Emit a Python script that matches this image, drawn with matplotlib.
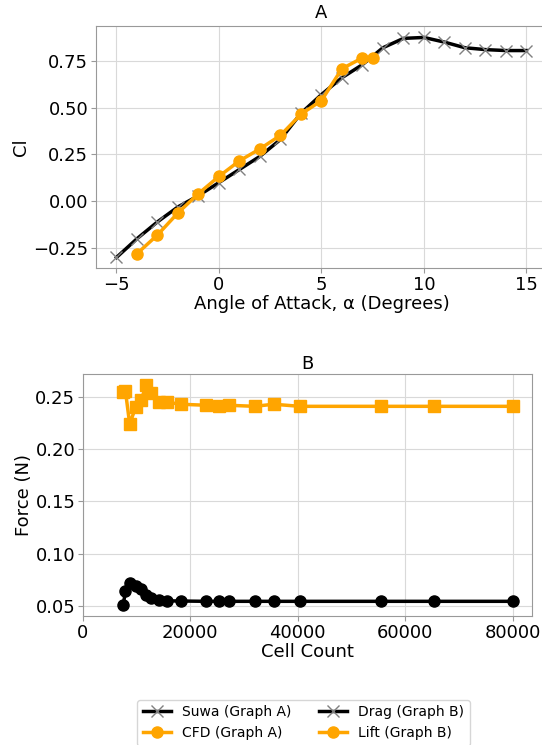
import matplotlib.pyplot as plt
import numpy as np

### Graph A: lift coefficient vs angle of attack ###
suwa_alpha = [-5, -4, -3, -2, -1, 0, 1, 2, 3, 4, 5, 6, 7, 8, 9, 10, 11, 12, 13, 14, 15]
suwa_cl = [-0.30, -0.20, -0.11, -0.03, 0.03, 0.10, 0.17, 0.24, 0.33, 0.47, 0.57,
           0.66, 0.73, 0.82, 0.87, 0.875, 0.85, 0.82, 0.81, 0.805, 0.805]

cfd_alpha = [-4, -3, -2, -1, 0, 1, 2, 3, 4, 5, 6, 7, 7.5]
cfd_cl = [-0.28, -0.18, -0.062, 0.041, 0.133, 0.216, 0.28, 0.352, 0.465, 0.538,
          0.708, 0.766, 0.763]

### Graph B: mesh study ###
cells = [7500, 7900, 8700, 9800, 10800, 11800, 12700, 14200, 15600, 18200,
         23000, 25300, 27200, 32000, 35500, 40400, 55500, 65400, 80000]
lift = [0.255, 0.256, 0.224, 0.240, 0.247, 0.261, 0.254, 0.245, 0.245, 0.243,
        0.242, 0.241, 0.242, 0.241, 0.243, 0.241, 0.241, 0.241, 0.241]
drag = [0.051, 0.064, 0.072, 0.069, 0.066, 0.061, 0.058, 0.056, 0.055, 0.0548,
        0.0545, 0.0545, 0.0545, 0.0545, 0.0545, 0.0545, 0.0545, 0.0545, 0.0545]

orange = '#FFA500'
fs = 13

fig = plt.figure(figsize=(5.42, 7.45), dpi=100)
ax1 = fig.add_axes([0.1771, 0.6397, 0.832, 0.3248])
ax2 = fig.add_axes([0.1531, 0.1732, 0.8284, 0.3242])

for ax in (ax1, ax2):
    ax.grid(True, color='0.85', linewidth=0.8)
    ax.set_axisbelow(True)
    for s in ax.spines.values():
        s.set_color('0.6')
    ax.tick_params(labelsize=fs, color='0.6', pad=2)

l1, = ax1.plot(suwa_alpha, suwa_cl, color='black', lw=2.5, marker='x',
               ms=9, mec='gray', mew=1, label='Suwa (Graph A)')
l2, = ax1.plot(cfd_alpha, cfd_cl, color=orange, lw=2.5, marker='o',
               ms=8, label='CFD (Graph A)')
ax1.set_title('A', fontsize=fs, pad=6)
ax1.set_xlabel('Angle of Attack, α (Degrees)', fontsize=fs, labelpad=1)
ax1.set_ylabel('Cl', fontsize=fs, labelpad=2)
ax1.set_yticks([-0.25, 0, 0.25, 0.5, 0.75])

ax2.plot(cells, drag, color='black', lw=2.5, marker='o', ms=8)
ax2.plot(cells, lift, color=orange, lw=2.5, marker='s', ms=8)
ax2.set_xlim(left=0)
ax2.set_title('B', fontsize=fs, pad=4)
ax2.set_xlabel('Cell Count', fontsize=fs, labelpad=1)
ax2.set_ylabel('Force (N)', fontsize=fs, labelpad=2)

fig.legend([l1, l2, l1, l2],
           ['Suwa (Graph A)', 'CFD (Graph A)', 'Drag (Graph B)', 'Lift (Graph B)'],
           loc='upper center', bbox_to_anchor=(0.56, 0.07), ncol=2,
           fontsize=10, columnspacing=2)

fig.savefig('out.png', dpi=100)
